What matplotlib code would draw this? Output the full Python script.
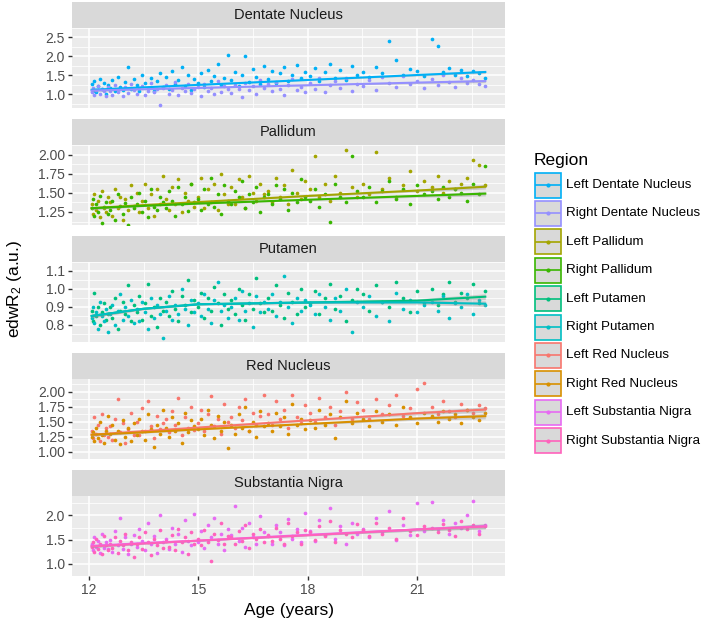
import matplotlib
matplotlib.use("Agg")
import matplotlib.pyplot as plt
from matplotlib.patches import Rectangle
import numpy as np

plt.rcParams['font.family'] = ['Liberation Sans', 'DejaVu Sans']
plt.rcParams['mathtext.fontset'] = 'custom'
plt.rcParams['mathtext.rm'] = 'Liberation Sans'
plt.rcParams['mathtext.it'] = 'Liberation Sans:italic'

# subject ages (shared by left/right measures), rows of 10
ages = [12.07, 12.10, 12.14, 12.19, 12.24, 12.29, 12.34, 12.40, 12.46, 12.52,
        12.58, 12.64, 12.71, 12.78, 12.85, 12.92, 12.99, 13.07, 13.14, 13.22,
        13.30, 13.37, 13.45, 13.53, 13.61, 13.69, 13.77, 13.86, 13.94, 14.02,
        14.11, 14.19, 14.28, 14.36, 14.45, 14.54, 14.62, 14.71, 14.80, 14.89,
        14.98, 15.07, 15.16, 15.25, 15.34, 15.43, 15.53, 15.62, 15.71, 15.81,
        15.90, 16.00, 16.10, 16.19, 16.29, 16.39, 16.49, 16.59, 16.70, 16.80,
        16.90, 17.01, 17.12, 17.23, 17.34, 17.45, 17.57, 17.69, 17.81, 17.93,
        18.06, 18.19, 18.32, 18.46, 18.60, 18.74, 18.89, 19.04, 19.20, 19.36,
        19.52, 19.69, 19.86, 20.04, 20.22, 20.41, 20.60, 20.80, 21.00, 21.20,
        21.40, 21.56, 21.72, 21.88, 22.04, 22.20, 22.36, 22.52, 22.70, 22.87]

left_dentate = [1.28, 1.10, 1.35, 1.05, 1.22, 1.40, 1.15, 1.30, 1.02, 1.25,
                1.18, 1.38, 1.08, 1.45, 1.20, 1.12, 1.32, 1.72, 1.15, 1.40,
                1.25, 1.10, 1.50, 1.30, 1.18, 1.42, 1.08, 1.35, 1.55, 1.20,
                1.45, 1.15, 1.62, 1.28, 1.38, 1.72, 1.22, 1.50, 1.12, 1.40,
                1.30, 1.55, 1.20, 1.65, 1.35, 1.48, 1.80, 1.25, 1.42, 2.05,
                1.38, 1.58, 1.22, 1.50, 2.00, 1.32, 1.68, 1.45, 1.28, 1.75,
                1.40, 1.62, 1.30, 1.55, 1.72, 1.35, 1.50, 1.78, 1.42, 1.60,
                1.48, 1.70, 1.35, 1.58, 1.80, 1.42, 1.65, 1.38, 1.75, 1.52,
                1.60, 1.45, 1.72, 1.55, 2.40, 1.90, 1.50, 1.68, 1.62, 1.48,
                2.45, 2.28, 1.58, 1.70, 1.52, 1.65, 1.48, 1.62, 1.55, 1.42]
right_dentate = [1.05, 1.18, 0.98, 1.12, 1.22, 1.02, 1.15, 1.08, 0.95, 1.20,
                 1.10, 0.99, 1.25, 1.06, 1.14, 0.96, 1.19, 1.03, 1.28, 1.11,
                 1.00, 1.16, 1.21, 0.97, 1.09, 1.30, 1.05, 1.13, 0.72, 1.18,
                 1.24, 1.02, 1.12, 1.33, 0.98, 1.17, 1.08, 1.26, 1.04, 1.14,
                 1.20, 0.95, 1.28, 1.10, 1.16, 1.02, 1.35, 1.07, 1.22, 1.13,
                 1.03, 1.25, 1.15, 0.92, 1.30, 1.11, 1.21, 1.00, 1.38, 1.17,
                 1.27, 1.08, 1.33, 1.14, 0.97, 1.24, 1.40, 1.12, 1.20, 1.05,
                 1.30, 1.15, 1.42, 1.06, 1.25, 1.35, 1.18, 1.44, 1.10, 1.28,
                 1.22, 1.38, 1.12, 1.45, 1.30, 1.20, 1.48, 1.26, 1.36, 1.16,
                 1.40, 1.25, 1.50, 1.32, 1.20, 1.44, 1.30, 1.38, 1.28, 1.22]
left_pallidum = [1.35, 1.22, 1.48, 1.28, 1.40, 1.18, 1.52, 1.30, 1.25, 1.44,
                 1.38, 1.20, 1.55, 1.30, 1.45, 1.15, 1.42, 1.28, 1.60, 1.33,
                 1.50, 1.25, 1.40, 1.62, 1.30, 1.48, 1.20, 1.55, 1.35, 1.72,
                 1.42, 1.28, 1.58, 1.35, 1.68, 1.25, 1.50, 1.40, 1.62, 1.32,
                 1.45, 1.70, 1.30, 1.55, 1.38, 1.62, 1.28, 1.75, 1.48, 1.35,
                 1.58, 1.35, 1.68, 1.45, 1.30, 1.72, 1.50, 1.40, 1.62, 1.48,
                 1.52, 1.38, 1.70, 1.45, 1.60, 1.35, 1.80, 1.50, 1.42, 1.65,
                 1.55, 1.98, 1.45, 1.62, 1.40, 1.72, 1.50, 2.06, 1.58, 1.45,
                 1.62, 1.48, 2.04, 1.55, 1.70, 1.45, 1.60, 1.78, 1.52, 1.65,
                 1.58, 1.72, 1.50, 1.65, 1.55, 1.62, 1.70, 1.93, 1.87, 1.60]
right_pallidum = [1.30, 1.42, 1.20, 1.35, 1.25, 1.46, 1.10, 1.32, 1.38, 1.22,
                  1.28, 1.40, 1.15, 1.48, 1.33, 1.22, 1.37, 1.08, 1.45, 1.30,
                  1.35, 1.50, 1.25, 1.40, 1.18, 1.55, 1.32, 1.28, 1.45, 1.38,
                  1.30, 1.52, 1.40, 1.20, 1.58, 1.35, 1.45, 1.26, 1.62, 1.38,
                  1.42, 1.28, 1.55, 1.36, 1.70, 1.32, 1.48, 1.22, 1.60, 1.40,
                  1.35, 1.52, 1.45, 1.65, 1.30, 1.48, 1.38, 1.58, 1.25, 1.44,
                  1.48, 1.35, 1.60, 1.42, 1.55, 1.28, 1.50, 1.38, 1.68, 1.45,
                  1.40, 1.55, 1.32, 1.48, 1.12, 1.62, 1.45, 1.38, 1.98, 1.52,
                  1.45, 1.58, 1.38, 1.52, 1.65, 1.42, 1.55, 1.35, 1.60, 1.48,
                  1.52, 1.42, 1.58, 1.45, 1.55, 1.50, 1.40, 1.62, 1.48, 1.85]
left_putamen = [0.88, 0.82, 0.98, 0.85, 0.90, 0.80, 0.87, 0.92, 0.83, 0.86,
                0.90, 0.84, 0.95, 0.78, 0.88, 0.93, 0.86, 1.02, 0.82, 0.91,
                0.87, 0.96, 0.83, 0.92, 1.03, 0.85, 0.90, 0.79, 0.95, 0.88,
                0.93, 0.85, 0.99, 0.89, 0.82, 0.96, 0.91, 1.05, 0.87, 0.94,
                0.90, 0.98, 0.84, 0.95, 0.88, 1.01, 0.92, 0.80, 0.97, 0.89,
                0.94, 0.86, 1.00, 0.91, 0.83, 0.97, 0.89, 1.06, 0.92, 0.87,
                0.95, 0.88, 1.02, 0.91, 0.84, 0.98, 0.93, 0.86, 1.00, 0.90,
                0.92, 0.99, 0.86, 0.95, 1.03, 0.89, 0.96, 0.82, 0.94, 1.00,
                0.97, 0.88, 1.02, 0.93, 0.90, 1.04, 0.95, 0.87, 0.99, 0.92,
                1.00, 0.91, 0.97, 1.04, 0.93, 0.98, 0.95, 1.03, 0.92, 0.99]
right_putamen = [0.84, 0.90, 0.81, 0.87, 0.78, 0.93, 0.85, 0.82, 0.89, 0.76,
                 0.86, 0.91, 0.80, 0.88, 0.97, 0.83, 0.90, 0.85, 0.94, 0.81,
                 0.89, 0.82, 0.93, 0.87, 0.78, 0.95, 0.84, 0.91, 0.86, 0.73,
                 0.88, 0.96, 0.83, 0.91, 0.86, 1.00, 0.89, 0.80, 0.94, 0.87,
                 0.92, 0.85, 0.97, 0.89, 0.81, 0.94, 1.04, 0.88, 0.91, 0.84,
                 0.90, 0.95, 0.83, 0.99, 0.88, 0.92, 0.79, 0.96, 0.87, 0.93,
                 0.89, 0.97, 0.85, 0.93, 1.07, 0.90, 0.81, 0.95, 0.88, 0.94,
                 0.91, 0.86, 0.97, 0.90, 0.83, 0.95, 0.88, 1.00, 0.76, 0.93,
                 0.90, 0.96, 0.85, 0.93, 0.82, 0.98, 0.89, 0.94, 0.87, 0.91,
                 0.93, 0.88, 0.96, 0.84, 0.92, 0.90, 0.97, 0.86, 0.94, 0.91]
left_red = [1.35, 1.22, 1.58, 1.30, 1.45, 1.18, 1.62, 1.28, 1.40, 1.25,
            1.42, 1.20, 1.55, 1.88, 1.32, 1.48, 1.15, 1.38, 1.65, 1.27,
            1.50, 1.28, 1.72, 1.35, 1.85, 1.42, 1.22, 1.60, 1.38, 1.48,
            1.55, 1.32, 1.68, 1.45, 1.90, 1.28, 1.58, 1.40, 1.75, 1.36,
            1.48, 1.70, 1.35, 1.62, 1.92, 1.42, 1.55, 1.30, 1.80, 1.50,
            1.58, 1.40, 1.75, 1.52, 1.88, 1.35, 1.65, 1.45, 1.60, 1.95,
            1.62, 1.45, 1.85, 1.55, 1.70, 1.40, 1.95, 1.58, 1.48, 1.78,
            1.65, 1.50, 1.90, 1.58, 1.75, 1.45, 1.68, 2.00, 1.55, 1.82,
            1.70, 1.55, 1.88, 1.62, 1.78, 1.95, 1.60, 1.72, 2.05, 2.14,
            1.75, 1.62, 1.85, 1.68, 1.58, 1.80, 1.70, 1.65, 1.78, 1.72]
right_red = [1.25, 1.32, 1.18, 1.40, 1.22, 1.50, 1.28, 1.15, 1.35, 1.60,
             1.30, 1.45, 1.20, 1.35, 1.12, 1.52, 1.25, 1.40, 1.18, 1.48,
             1.28, 1.55, 1.35, 1.20, 1.62, 1.38, 1.08, 1.45, 1.30, 1.70,
             1.40, 1.25, 1.58, 1.35, 1.48, 1.15, 1.65, 1.32, 1.52, 1.42,
             1.38, 1.55, 1.28, 1.70, 1.45, 1.22, 1.60, 1.35, 1.50, 1.06,
             1.45, 1.30, 1.62, 1.40, 1.75, 1.35, 1.50, 1.25, 1.68, 1.42,
             1.48, 1.35, 1.65, 1.42, 1.58, 1.30, 1.80, 1.45, 1.55, 1.38,
             1.52, 1.40, 1.70, 1.45, 1.62, 1.22, 1.58, 1.85, 1.48, 1.65,
             1.55, 1.42, 1.68, 1.50, 1.62, 1.45, 1.75, 1.58, 1.48, 1.65,
             1.60, 1.50, 1.68, 1.55, 1.62, 1.48, 1.70, 1.58, 1.52, 1.65]
left_sn = [1.40, 1.28, 1.55, 1.35, 1.48, 1.22, 1.62, 1.32, 1.45, 1.30,
           1.50, 1.25, 1.68, 1.38, 1.95, 1.30, 1.55, 1.20, 1.42, 1.60,
           1.35, 1.72, 1.48, 1.28, 1.85, 1.40, 1.58, 1.22, 2.00, 1.45,
           1.52, 1.30, 1.75, 1.42, 1.62, 1.25, 1.90, 1.48, 1.38, 2.02,
           1.45, 1.68, 1.32, 1.80, 1.55, 1.95, 1.40, 1.62, 1.28, 1.72,
           1.60, 2.19, 1.48, 1.75, 1.35, 1.85, 1.55, 1.42, 1.98, 1.65,
           1.58, 1.42, 1.80, 1.65, 1.38, 1.92, 1.52, 1.72, 1.45, 2.05,
           1.68, 1.48, 1.90, 1.60, 2.15, 1.52, 1.78, 1.42, 1.85, 1.62,
           1.72, 1.55, 1.95, 1.65, 2.10, 1.50, 1.80, 1.60, 2.25, 1.68,
           2.28, 1.72, 1.90, 1.62, 1.85, 1.75, 2.00, 2.30, 1.68, 1.80]
right_sn = [1.35, 1.45, 1.25, 1.52, 1.30, 1.40, 1.20, 1.58, 1.38, 1.28,
            1.42, 1.32, 1.55, 1.22, 1.48, 1.38, 1.62, 1.28, 1.45, 1.15,
            1.40, 1.55, 1.30, 1.65, 1.45, 1.18, 1.52, 1.38, 1.70, 1.32,
            1.48, 1.35, 1.60, 1.28, 1.72, 1.45, 1.55, 1.20, 1.65, 1.40,
            1.52, 1.38, 1.70, 1.45, 1.06, 1.62, 1.50, 1.85, 1.42, 1.58,
            1.55, 1.40, 1.68, 1.48, 1.80, 1.32, 1.62, 1.52, 1.72, 1.45,
            1.60, 1.48, 1.75, 1.52, 1.40, 1.85, 1.58, 1.65, 1.42, 1.70,
            1.65, 1.50, 1.78, 1.58, 1.88, 1.45, 1.70, 1.62, 1.55, 1.82,
            1.70, 1.58, 1.85, 1.62, 1.75, 1.52, 1.95, 1.68, 1.60, 1.78,
            1.75, 1.65, 1.82, 1.70, 1.58, 1.88, 1.72, 1.80, 1.62, 1.78]

# smooth fits
fit_ages = [12.07, 13.5, 15, 18, 21, 22.87]
fit_left_dentate = [1.12, 1.185, 1.25, 1.38, 1.51, 1.59]
fit_right_dentate = [1.10, 1.135, 1.17, 1.24, 1.31, 1.35]
fit_left_pallidum = [1.30, 1.34, 1.38, 1.46, 1.53, 1.58]
fit_right_pallidum = [1.30, 1.33, 1.36, 1.41, 1.46, 1.49]
fit_left_putamen = [0.85, 0.89, 0.915, 0.925, 0.935, 0.957]
fit_right_putamen = [0.85, 0.89, 0.915, 0.925, 0.925, 0.918]
fit_left_red = [1.28, 1.34, 1.40, 1.52, 1.64, 1.70]
fit_right_red = [1.28, 1.32, 1.37, 1.46, 1.55, 1.59]
fit_left_sn = [1.37, 1.43, 1.48, 1.60, 1.71, 1.78]
fit_right_sn = [1.36, 1.42, 1.48, 1.59, 1.71, 1.77]
# half width of the confidence band at each fit age, per panel
ci_dentate = [0.025, 0.014, 0.012, 0.014, 0.025, 0.04]
ci_pallidum = [0.018, 0.010, 0.008, 0.010, 0.018, 0.03]
ci_putamen = [0.010, 0.005, 0.004, 0.005, 0.010, 0.016]
ci_red = [0.025, 0.014, 0.012, 0.014, 0.028, 0.045]
ci_sn = [0.03, 0.016, 0.014, 0.016, 0.03, 0.05]

panels = ["Dentate Nucleus", "Pallidum", "Putamen", "Red Nucleus", "Substantia Nigra"]
panel_yticks = [[1.0, 1.5, 2.0, 2.5], [1.25, 1.50, 1.75, 2.00], [0.8, 0.9, 1.0, 1.1],
                [1.00, 1.25, 1.50, 1.75, 2.00], [1.0, 1.5, 2.0]]
panel_ylims = [(0.64, 2.55), (1.08, 2.11), (0.705, 1.14), (0.96, 2.21), (0.985, 2.40)]
panel_fmt = ["%.1f", "%.2f", "%.1f", "%.2f", "%.1f"]
panel_series = [(left_dentate, right_dentate), (left_pallidum, right_pallidum),
                (left_putamen, right_putamen), (left_red, right_red), (left_sn, right_sn)]
panel_fits = [(fit_left_dentate, fit_right_dentate), (fit_left_pallidum, fit_right_pallidum),
              (fit_left_putamen, fit_right_putamen), (fit_left_red, fit_right_red),
              (fit_left_sn, fit_right_sn)]
panel_ci = [ci_dentate, ci_pallidum, ci_putamen, ci_red, ci_sn]

regions = ["Left Dentate Nucleus", "Right Dentate Nucleus", "Left Pallidum", "Right Pallidum",
           "Left Putamen", "Right Putamen", "Left Red Nucleus", "Right Red Nucleus",
           "Left Substantia Nigra", "Right Substantia Nigra"]
colors = ["#00B0F6", "#9590FF", "#A3A500", "#39B600", "#00BF7D",
          "#00BFC4", "#F8766D", "#D89000", "#E76BF3", "#FF62BC"]
xticks = [12, 15, 18, 21]

W, H = 709, 623
fig = plt.figure(figsize=(W / 100, H / 100), dpi=100)

px_left, px_right = 72, 505
for i, name in enumerate(panels):
    top = 28 + i * 117
    ax = fig.add_axes([px_left / W, 1 - (top + 80) / H, (px_right - px_left) / W, 80 / H])
    ax.set_facecolor("#EBEBEB")
    for s in ax.spines.values():
        s.set_visible(False)
    ax.set_xlim(11.53, 23.41)
    ax.set_ylim(*panel_ylims[i])
    ax.set_xticks(xticks)
    ax.set_xticks([13.5, 16.5, 19.5, 22.5], minor=True)
    yt = panel_yticks[i]
    ax.set_yticks(yt)
    step = yt[1] - yt[0]
    ax.set_yticks([yt[0] - step / 2] + [v + step / 2 for v in yt], minor=True)
    ax.set_yticklabels([panel_fmt[i] % v for v in yt])
    ax.grid(which="major", color="white", lw=1.1)
    ax.grid(which="minor", color="white", lw=0.55)
    ax.set_axisbelow(True)
    ax.tick_params(axis="both", which="major", length=3, width=1, color="#333333",
                   labelcolor="#4D4D4D", labelsize=10, pad=2)
    ax.tick_params(which="minor", length=0)
    if i < len(panels) - 1:
        ax.tick_params(axis="x", labelbottom=False, length=0)

    left_vals, right_vals = panel_series[i]
    ax.scatter(ages, left_vals, s=7, color=colors[2 * i], lw=0, zorder=2)
    ax.scatter(ages, right_vals, s=7, color=colors[2 * i + 1], lw=0, zorder=2)
    ci = np.array(panel_ci[i])
    for k, fit in enumerate(panel_fits[i]):
        f = np.array(fit)
        ax.fill_between(fit_ages, f - ci, f + ci, color="#999999", alpha=0.4, lw=0, zorder=3)
        ax.plot(fit_ages, f, color=colors[2 * i + k], lw=1.5, zorder=4)

    # facet strip
    sax = fig.add_axes([px_left / W, 1 - top / H, (px_right - px_left) / W, 26 / H])
    sax.set_facecolor("#D9D9D9")
    sax.set_xticks([])
    sax.set_yticks([])
    for s in sax.spines.values():
        s.set_visible(False)
    sax.text(0.5, 0.5, name, ha="center", va="center", fontsize=10.5, color="#1A1A1A",
             transform=sax.transAxes)

fig.text(15 / W, 1 - 289 / H, r"edwR$_2$ (a.u.)", rotation=90, ha="center", va="center",
         fontsize=12.5, color="black")
fig.text((px_left + px_right) / 2 / W, 1 - 611 / H, "Age (years)", ha="center", va="center",
         fontsize=12.5, color="black")

# legend drawn in pixel space
lax = fig.add_axes([0, 0, 1, 1])
lax.set_xlim(0, W)
lax.set_ylim(H, 0)
lax.axis("off")
lax.text(534, 160, "Region", fontsize=12.5, va="center", ha="left")
for j, (lab, c) in enumerate(zip(regions, colors)):
    yc = 185 + j * 28.4
    lax.add_patch(Rectangle((535, yc - 12.5), 26, 25, facecolor="#D9D9D9", edgecolor=c, lw=1.2))
    lax.plot([536, 560], [yc, yc], color=c, lw=1.2)
    lax.plot([548], [yc], marker="o", ms=2, color=c)
    lax.text(566, yc, lab, fontsize=9.6, va="center", ha="left", color="black")

fig.savefig("out.png", dpi=100)
